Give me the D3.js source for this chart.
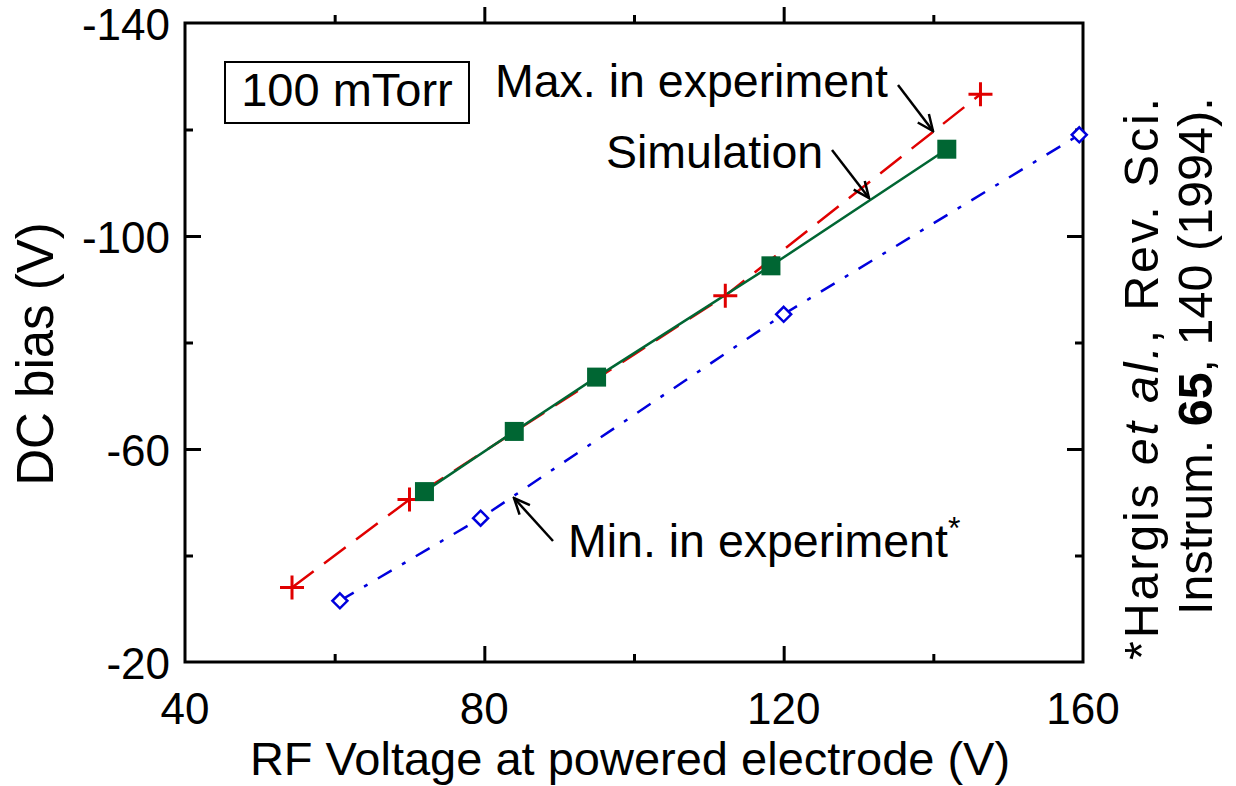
<!DOCTYPE html>
<html>
<head>
<meta charset="utf-8">
<script src="https://cdn.jsdelivr.net/npm/d3@7"></script>
<style>
  body { margin: 0; background: #fff; }
  text { font-family: "Liberation Sans", Arial, sans-serif; fill: #000; }
</style>
</head>
<body>
<div id="chart"></div>
<script>
/** Data */
const maxExpX = [54.3, 70, 112.2, 146.3];
const maxExpY = [-34, -50.5, -88.8, -126.6];
const simX = [72, 84, 95, 118.3, 141.8];
const simY = [-52, -63.3, -73.5, -94.4, -116.3];
const minExpX = [60.7, 79.5, 120, 159.5];
const minExpY = [-31.5, -47, -85.3, -119];
const xMajor = [40, 80, 120, 160];
const xMinor = [60, 100, 140];
const yMajor = [-140, -100, -60, -20];
const yMinor = [-120, -80, -40];

const W = 1236, H = 786;
const plot = { left: 185, right: 1083, top: 23, bottom: 662 };

const svg = d3.select("#chart").append("svg")
  .attr("width", W).attr("height", H);

const x = d3.scaleLinear().domain([40, 160]).range([plot.left, plot.right]);
const y = d3.scaleLinear().domain([-140, -20]).range([plot.top, plot.bottom]);

/** Axes: inward ticks on all four sides, labels drawn separately */
const tickStyle = (g) => {
  g.select(".domain").remove();
  g.selectAll("line").attr("stroke", "#000").attr("stroke-width", 3);
};
const mk = (axisFn, scale, vals, size, pos) => {
  const a = axisFn(scale).tickValues(vals).tickSize(-size).tickFormat("");
  svg.append("g").attr("transform", pos).call(a).call(tickStyle);
};
mk(d3.axisBottom, x, xMajor.slice(1, -1), 16, `translate(0,${plot.bottom})`);
mk(d3.axisBottom, x, xMinor, 8, `translate(0,${plot.bottom})`);
mk(d3.axisTop, x, xMajor.slice(1, -1), -16, `translate(0,${plot.top})`);
mk(d3.axisTop, x, xMinor, -8, `translate(0,${plot.top})`);
mk(d3.axisLeft, y, yMajor.slice(1, -1), 16, `translate(${plot.left},0)`);
mk(d3.axisLeft, y, yMinor, 8, `translate(${plot.left},0)`);
mk(d3.axisRight, y, yMajor.slice(1, -1), 16, `translate(${plot.right},0)`);
mk(d3.axisRight, y, yMinor, 8, `translate(${plot.right},0)`);

// tick labels
svg.append("g").selectAll("text").data(xMajor).join("text")
  .attr("x", (d) => x(d)).attr("y", 724)
  .attr("text-anchor", "middle").style("font-size", "44px").text((d) => d);
svg.append("g").selectAll("text").data(yMajor).join("text")
  .attr("x", plot.left - 15).attr("y", (d) => y(d) + 17)
  .attr("text-anchor", "end").style("font-size", "44px").text((d) => d);

// frame
svg.append("rect")
  .attr("x", plot.left).attr("y", plot.top)
  .attr("width", plot.right - plot.left).attr("height", plot.bottom - plot.top)
  .attr("fill", "none").attr("stroke", "#000").attr("stroke-width", 3);

/** Axis titles */
svg.append("text").attr("x", 630).attr("y", 775)
  .attr("text-anchor", "middle").style("font-size", "47px")
  .text("RF Voltage at powered electrode (V)");
svg.append("text")
  .attr("transform", `translate(53,354) rotate(-90)`)
  .attr("text-anchor", "middle").style("font-size", "51px").text("DC bias (V)");

/** Series */
const line = d3.line().x((d) => x(d[0])).y((d) => y(d[1]));
const maxPts = maxExpX.map((v, i) => [v, maxExpY[i]]);
const simPts = simX.map((v, i) => [v, simY[i]]);
const minPts = minExpX.map((v, i) => [v, minExpY[i]]);

svg.append("path").datum(maxPts).attr("d", line)
  .attr("fill", "none").attr("stroke", "#e00000").attr("stroke-width", 2.5)
  .attr("stroke-dasharray", "27,13");
svg.append("path").datum(minPts).attr("d", line)
  .attr("fill", "none").attr("stroke", "#0000dd").attr("stroke-width", 2.5)
  .attr("stroke-dasharray", "16,12,4,12");
svg.append("path").datum(simPts).attr("d", line)
  .attr("fill", "none").attr("stroke", "#006633").attr("stroke-width", 2.5);

svg.append("g").selectAll("path").data(maxPts).join("path")
  .attr("transform", (d) => `translate(${x(d[0])},${y(d[1])})`)
  .attr("d", "M-12,0H12M0,-12V12")
  .attr("stroke", "#e00000").attr("stroke-width", 3).attr("fill", "none");
svg.append("g").selectAll("rect").data(simPts).join("rect")
  .attr("x", (d) => x(d[0]) - 9.5).attr("y", (d) => y(d[1]) - 9.5)
  .attr("width", 19).attr("height", 19).attr("fill", "#006633");
svg.append("g").selectAll("path").data(minPts).join("path")
  .attr("transform", (d) => `translate(${x(d[0])},${y(d[1])})`)
  .attr("d", "M0,-7.5L7.5,0L0,7.5L-7.5,0Z")
  .attr("stroke", "#0000dd").attr("stroke-width", 2.5).attr("fill", "#fff");

/** Annotations */
svg.append("rect").attr("x", 225).attr("y", 62).attr("width", 244).attr("height", 61)
  .attr("fill", "#fff").attr("stroke", "#000").attr("stroke-width", 2);
svg.append("text").attr("x", 347).attr("y", 106).attr("text-anchor", "middle")
  .style("font-size", "47px").text("100 mTorr");

svg.append("defs").append("marker").attr("id", "arr")
  .attr("viewBox", "0 0 20 20").attr("refX", 18).attr("refY", 10)
  .attr("markerWidth", 20).attr("markerHeight", 20).attr("markerUnits", "userSpaceOnUse")
  .attr("orient", "auto")
  .append("path").attr("d", "M2,3L18,10L2,17").attr("fill", "none")
  .attr("stroke", "#000").attr("stroke-width", 2.5);

const arrow = (x1, y1, x2, y2) => svg.append("line")
  .attr("x1", x1).attr("y1", y1).attr("x2", x2).attr("y2", y2)
  .attr("stroke", "#000").attr("stroke-width", 2.5).attr("marker-end", "url(#arr)");

svg.append("text").attr("x", 495).attr("y", 97).style("font-size", "46.5px")
  .text("Max. in experiment");
arrow(898, 85, 933, 131);
svg.append("text").attr("x", 606).attr("y", 168).style("font-size", "46.5px")
  .text("Simulation");
arrow(832, 150, 869, 198);
const minLbl = svg.append("text").attr("x", 568).attr("y", 557).style("font-size", "46.5px");
minLbl.append("tspan").text("Min. in experiment");
minLbl.append("tspan").attr("dy", -18).style("font-size", "32px").text("*");
arrow(553, 541, 514, 498);

/** Reference note, rotated */
const r1 = svg.append("text")
  .attr("transform", "translate(1158,660) rotate(-90)")
  .attr("textLength", 562).attr("lengthAdjust", "spacing")
  .style("font-size", "48.5px");
r1.append("tspan").text("*Hargis ");
r1.append("tspan").style("font-style", "italic").text("et al.");
r1.append("tspan").text(", Rev. Sci.");
const r2 = svg.append("text")
  .attr("transform", "translate(1212,615) rotate(-90)")
  .style("font-size", "48.5px");
r2.append("tspan").text("Instrum. ");
r2.append("tspan").style("font-weight", "bold").text("65");
r2.append("tspan").text(", 140 (1994).");
</script>
</body>
</html>
